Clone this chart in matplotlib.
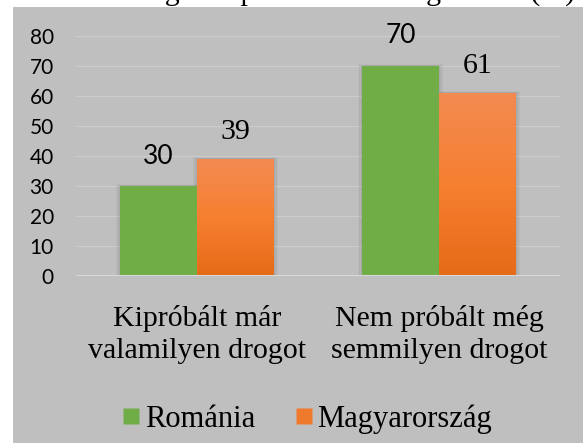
import matplotlib
matplotlib.use("Agg")
import matplotlib.pyplot as plt
import numpy as np
from matplotlib.patches import Rectangle
from matplotlib.lines import Line2D
from matplotlib.colors import LinearSegmentedColormap

# ---- data ----
categories = ["Kipróbált már\nvalamilyen drogot", "Nem próbált még\nsemmilyen drogot"]
series_names = ["Románia", "Magyarország"]
romania = [30, 70]
magyar = [39, 61]
yticks = [0, 10, 20, 30, 40, 50, 60, 70, 80]
title = "Drogok kipróbálása országonként (%)"

W, H = 583, 443
fig = plt.figure(figsize=(W / 100, H / 100), dpi=100)
fig.patch.set_facecolor("white")

# gray panel
bg = "#BFBFBF"
fig.patches.append(Rectangle((13 / W, 0), 1 - 13 / W, (H - 7) / H,
                             transform=fig.transFigure, facecolor=bg,
                             edgecolor="none", zorder=-5))

# cut-off title (only descenders visible)
fig.text(118 / W, 1.0, title, fontsize=21.6, family="Liberation Serif",
         ha="left", va="baseline", color="black", zorder=1)

ax = fig.add_axes([76 / W, (H - 276) / H, (560 - 76) / W, (276 - 36) / H])
ax.set_zorder(2)
ax.set_facecolor("none")
ax.set_xlim(-0.5, 1.5)
ax.set_ylim(0, 80)
for s in ax.spines.values():
    s.set_visible(False)

ax.set_yticks(yticks)
ax.set_yticklabels([str(t) for t in yticks], fontsize=15, family="Lato")
ax.tick_params(axis="y", length=0, pad=16, colors="black")
ax.set_xticks([])
for t in yticks[1:]:
    ax.axhline(t, color="#CCCCCC", lw=0.9, zorder=1)
ax.axhline(0, color="#D9D9D9", lw=2.2, zorder=4)

x = np.arange(len(categories))
bw = 0.318
green = "#70AD47"

bars_r = ax.bar(x - bw / 2, romania, bw, color=green, zorder=3, linewidth=0)
bars_m = ax.bar(x + bw / 2, magyar, bw, color="#F5822E", zorder=3, linewidth=0)

# shadows behind bars
for bars in (bars_r, bars_m):
    for b in bars:
        for k, a in ((3, 0.05), (2, 0.07), (1, 0.09)):
            off = 0.006 * k
            r = Rectangle((b.get_x() - off, 0), b.get_width() + 2 * off,
                          b.get_height() + off * 40, facecolor="#555555",
                          alpha=a, edgecolor="none", zorder=2)
            ax.add_patch(r)

# orange gradient
cmap = LinearSegmentedColormap.from_list(
    "og", [(0.0, "#E66B18"), (0.5, "#F67F30"), (1.0, "#F28B52")])
grad = np.linspace(0, 1, 256).reshape(-1, 1)
for b in bars_m:
    im = ax.imshow(grad, cmap=cmap, origin="lower", aspect="auto",
                   extent=(b.get_x(), b.get_x() + b.get_width(), 0, b.get_height()),
                   zorder=3.5)
    im.set_clip_path(b)
ax.set_xlim(-0.5, 1.5)
ax.set_ylim(0, 80)

# value labels
for b, v in zip(bars_r, romania):
    ax.text(b.get_x() + b.get_width() / 2, v + 10.0, str(v), ha="center",
            va="center", fontsize=19, family="Lato", color="black", zorder=5)
for b, v in zip(bars_m, magyar):
    ax.text(b.get_x() + b.get_width() / 2, v + 9.0, str(v), ha="center",
            va="center", fontsize=21.5, family="Liberation Serif", color="black",
            zorder=5)

# category labels
for xi, c in zip(x, categories):
    ax.text(xi, -9.5, c, ha="center", va="top", fontsize=21.5,
            family="Liberation Serif", linespacing=1.3, color="black")

# legend
handles = [Line2D([], [], marker="s", linestyle="none", markersize=11.5,
                  markerfacecolor=green, markeredgecolor="none"),
           Line2D([], [], marker="s", linestyle="none", markersize=11.5,
                  markerfacecolor="#F07A2C", markeredgecolor="none")]
fig.legend(handles, series_names, loc="center", bbox_to_anchor=(307 / W, 1 - 419 / H),
           ncol=2, frameon=False, prop={"family": "Liberation Serif", "size": 22},
           handlelength=0.6, handletextpad=0.15, columnspacing=1.3)

fig.savefig("out.png", dpi=100, facecolor=fig.get_facecolor())
